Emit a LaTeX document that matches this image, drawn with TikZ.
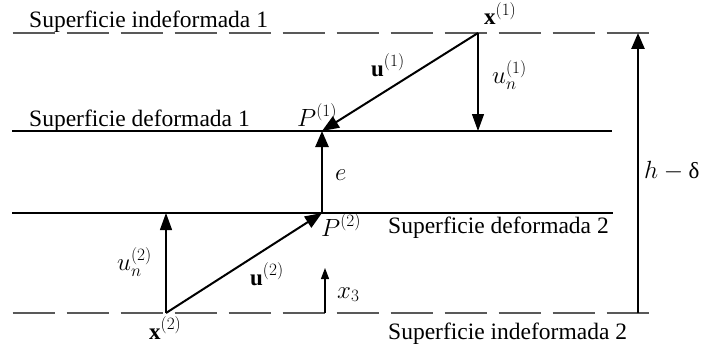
\documentclass[tikz,border=0pt]{standalone}
\usepackage{fontspec}
\setmainfont{Liberation Serif}
\usetikzlibrary{arrows.meta}
\begin{document}
\begin{tikzpicture}[x=1pt,y=-1pt,
  surf/.style={line width=1.3pt},
  dsurf/.style={line width=1.3pt, black!65, dash pattern=on 42.5pt off 11.5pt},
  lbl/.style={inner sep=0pt, font=\fontsize{23.5}{27}\selectfont},
  mlbl/.style={inner sep=0pt, font=\fontsize{23}{27}\selectfont},
  thicktip/.style={line width=2.6pt, -{Triangle[length=16pt,width=13pt]}},
  vectip/.style={line width=2pt, -{Triangle[length=17pt,width=13pt]}},
  thintip/.style={line width=1.2pt, -{Triangle[length=17pt,width=12pt]}},
  smalltip/.style={line width=1.2pt, -{Triangle[length=11pt,width=8pt]}}
]
\useasboundingbox (0,0) rectangle (703,345);

% surfaces
\coordinate (T0) at (12.7,33);  \coordinate (T1) at (650,33);
\coordinate (D10) at (12,131);  \coordinate (D11) at (612,131);
\coordinate (D20) at (12,213);  \coordinate (D21) at (613,213);
\coordinate (B0) at (12.7,313); \coordinate (B1) at (649,313);
\draw[dsurf] (T0) -- (T1);
\draw[surf] (D10) -- (D11);
\draw[surf] (D20) -- (D21);
\draw[dsurf] (B0) -- (B1);

% points
\coordinate (X1) at (478,33);
\coordinate (P1) at (322,131);
\coordinate (P2) at (322,213);
\coordinate (X2) at (166,313);
\coordinate (N1) at (478,131);
\coordinate (N2) at (166,213);
\coordinate (X3a) at (325,313);
\coordinate (X3b) at (325,268);
\coordinate (Ha) at (638,313);
\coordinate (Hb) at (638,33);

% arrows
\draw[thintip] (X1) -- (N1);
\draw[thintip] (X2) -- (N2);
\draw[vectip] (X1) -- (P1);
\draw[vectip] (X2) -- (P2);
\draw[thicktip] (P2) -- (P1);
\draw[thicktip] (Ha) -- (Hb);
\draw[smalltip] (X3a) -- (X3b);

% texts
\node[lbl, anchor=base west] (s1) at (29,28) {Superficie indeformada 1};
\node[lbl, anchor=base west] (s2) at (29,126) {Superficie deformada 1};
\node[lbl, anchor=base west] (s3) at (388,233) {Superficie deformada 2};
\node[lbl, anchor=base west] (s4) at (388,339) {Superficie indeformada 2};

% labels
\node[mlbl, anchor=base west] (lx1) at (484,25) {$\mathbf{x}^{(1)}$};
\node[mlbl, anchor=base west] (lu1) at (371,76) {$\mathbf{u}^{(1)}$};
\node[mlbl, anchor=base west] (lun1) at (492,83) {$u_n^{(1)}$};
\node[mlbl, anchor=base west] (lp1) at (297,126) {$P^{(1)}$};
\node[mlbl, anchor=base west] (le) at (335,180) {$e$};
\node[mlbl, anchor=base west] (lh) at (644,178) {$h-\mbox{δ}$};
\node[mlbl, anchor=base west] (lp2) at (321,236) {$P^{(2)}$};
\node[mlbl, anchor=base west] (lun2) at (117,270) {$u_n^{(2)}$};
\node[mlbl, anchor=base west] (lu2) at (250,285) {$\mathbf{u}^{(2)}$};
\node[mlbl, anchor=base west] (lx2) at (149,339) {$\mathbf{x}^{(2)}$};
\node[mlbl, anchor=base west] (lx3) at (337,298) {$x_3$};
\end{tikzpicture}
\end{document}
